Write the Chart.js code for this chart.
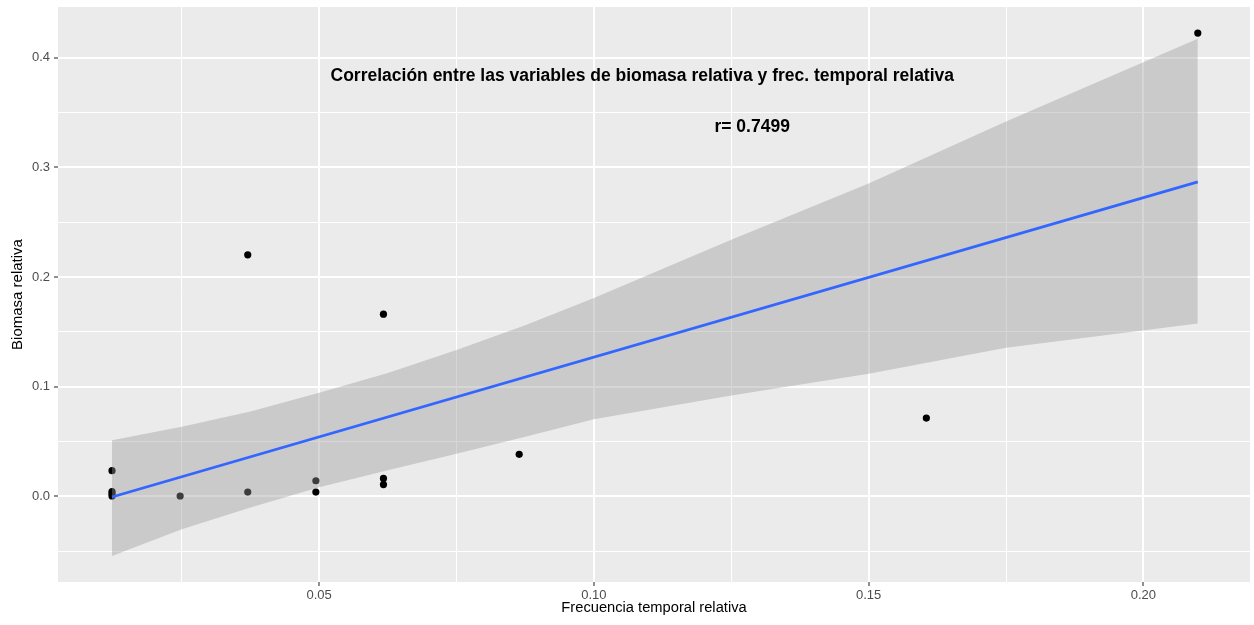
<!DOCTYPE html>
<html>
<head>
<meta charset="utf-8">
<script src="https://cdn.jsdelivr.net/npm/chart.js@4"></script>
<style>
  html, body { margin: 0; padding: 0; background: #fff; }
  #wrap { width: 1254px; height: 625px; }
</style>
</head>
<body>
<div id="wrap"><canvas id="chart" width="1254" height="625"></canvas></div>
<script>
// observations (relative temporal frequency, relative biomass)
const pointX = [0.0123, 0.0123, 0.0123, 0.0123, 0.0247, 0.037, 0.037, 0.0494, 0.0494, 0.0617, 0.0617, 0.0617, 0.0864, 0.1605, 0.2099];
const pointY = [0.0235, 0.0045, 0.0025, 0.0005, 0.0004, 0.0040, 0.2203, 0.0143, 0.0040, 0.0164, 0.0108, 0.1662, 0.0384, 0.0715, 0.4225];

// linear fit and its confidence band
const fitX = [0.0123, 0.2099];
const fitY = [-0.0005, 0.2868];
const ribbonX = [0.0123, 0.025, 0.0375, 0.05, 0.0625, 0.075, 0.0875, 0.10, 0.125, 0.15, 0.175, 0.2099];
const ribbonUpper = [0.0512, 0.0635, 0.0775, 0.0945, 0.1125, 0.1335, 0.156, 0.181, 0.234, 0.2853, 0.342, 0.4173];
const ribbonLower = [-0.0542, -0.030, -0.0100, 0.0085, 0.0240, 0.0390, 0.0545, 0.0703, 0.092, 0.112, 0.1355, 0.1578];

// axes
const xMajorTicks = [0.05, 0.10, 0.15, 0.20];
const xTickLabels = ['0.05', '0.10', '0.15', '0.20'];
const xMinorTicks = [0.025, 0.075, 0.125, 0.175];
const yMajorTicks = [0.0, 0.1, 0.2, 0.3, 0.4];
const yTickLabels = ['0.0', '0.1', '0.2', '0.3', '0.4'];
const yMinorTicks = [-0.05, 0.05, 0.15, 0.25, 0.35];

const annotations = [
  { text: 'Correlación entre las variables de biomasa relativa y frec. temporal relativa', x: 0.1088, y: 0.3830 },
  { text: 'r= 0.7499', x: 0.1288, y: 0.3370 }
];

const pts = (xs, ys) => xs.map((x, i) => ({ x: x, y: ys[i] }));
const isIn = (arr, v) => arr.some(a => Math.abs(a - v) < 1e-9);

function tickList(majors, minors) {
  return majors.concat(minors).sort((a, b) => a - b).map(v => ({ value: v }));
}

const font = 'Liberation Sans, Arial, sans-serif';

const panelBg = {
  id: 'panelBg',
  beforeDraw(chart) {
    const a = chart.chartArea, c = chart.ctx;
    c.save();
    c.fillStyle = '#EBEBEB';
    c.fillRect(a.left, a.top, a.right - a.left, a.bottom - a.top);
    c.restore();
  }
};

const textLayer = {
  id: 'textLayer',
  afterDatasetsDraw(chart) {
    const c = chart.ctx, xs = chart.scales.x, ys = chart.scales.y;
    c.save();
    c.fillStyle = '#000';
    c.font = 'bold 17.5px ' + font;
    c.textAlign = 'center';
    c.textBaseline = 'middle';
    annotations.forEach(a => c.fillText(a.text, xs.getPixelForValue(a.x), ys.getPixelForValue(a.y)));
    c.restore();
  }
};

new Chart(document.getElementById('chart'), {
  type: 'scatter',
  data: {
    datasets: [
      {
        data: pts(pointX, pointY),
        backgroundColor: '#000',
        borderWidth: 0,
        pointRadius: 3.6,
        order: 3
      },
      {
        type: 'line',
        data: pts(ribbonX, ribbonUpper),
        showLine: true,
        borderWidth: 0,
        borderColor: 'rgba(0,0,0,0)',
        pointRadius: 0,
        backgroundColor: 'rgba(153,153,153,0.4)',
        fill: '+1',
        order: 2
      },
      {
        type: 'line',
        data: pts(ribbonX, ribbonLower),
        showLine: true,
        borderWidth: 0,
        borderColor: 'rgba(0,0,0,0)',
        pointRadius: 0,
        fill: false,
        order: 2
      },
      {
        type: 'line',
        data: pts(fitX, fitY),
        showLine: true,
        borderColor: '#3366FF',
        borderWidth: 2.8,
        pointRadius: 0,
        fill: false,
        order: 1
      }
    ]
  },
  options: {
    responsive: false,
    animation: false,
    layout: { padding: { top: 7, right: 2, left: 0, bottom: 0 } },
    plugins: { legend: { display: false }, tooltip: { enabled: false } },
    scales: {
      x: {
        type: 'linear',
        min: 0.00247,
        max: 0.2194,
        afterBuildTicks: s => { s.ticks = tickList(xMajorTicks, xMinorTicks); },
        afterFit: s => { s.height = 43; s.paddingLeft = 0; s.paddingRight = 0; },
        border: { display: false },
        grid: {
          color: '#ffffff',
          lineWidth: ctx => isIn(xMajorTicks, ctx.tick.value) ? 2 : 1,
          tickColor: ctx => isIn(xMajorTicks, ctx.tick.value) ? '#333333' : 'rgba(0,0,0,0)',
          tickLength: 4,
          tickWidth: 1.1
        },
        ticks: {
          autoSkip: false,
          maxRotation: 0,
          padding: 2,
          color: '#4D4D4D',
          font: { family: font, size: 13 },
          callback: v => { const i = xMajorTicks.findIndex(m => Math.abs(m - v) < 1e-9); return i < 0 ? '' : xTickLabels[i]; }
        },
        title: {
          display: true,
          text: 'Frecuencia temporal relativa',
          color: '#000',
          font: { family: font, size: 14.7 },
          padding: { top: 0, bottom: 8 }
        }
      },
      y: {
        type: 'linear',
        min: -0.078,
        max: 0.4463,
        afterBuildTicks: s => { s.ticks = tickList(yMajorTicks, yMinorTicks); },
        afterFit: s => { s.width = 58; s.paddingTop = 0; s.paddingBottom = 0; },
        border: { display: false },
        grid: {
          color: '#ffffff',
          lineWidth: ctx => isIn(yMajorTicks, ctx.tick.value) ? 2 : 1,
          tickColor: ctx => isIn(yMajorTicks, ctx.tick.value) ? '#333333' : 'rgba(0,0,0,0)',
          tickLength: 4,
          tickWidth: 1.1
        },
        ticks: {
          autoSkip: false,
          padding: 4,
          color: '#4D4D4D',
          font: { family: font, size: 13 },
          callback: v => { const i = yMajorTicks.findIndex(m => Math.abs(m - v) < 1e-9); return i < 0 ? '' : yTickLabels[i]; }
        },
        title: {
          display: true,
          text: 'Biomasa relativa',
          color: '#000',
          font: { family: font, size: 15 },
          padding: { top: 9, bottom: 0 }
        }
      }
    }
  },
  plugins: [panelBg, textLayer]
});
</script>
</body>
</html>
